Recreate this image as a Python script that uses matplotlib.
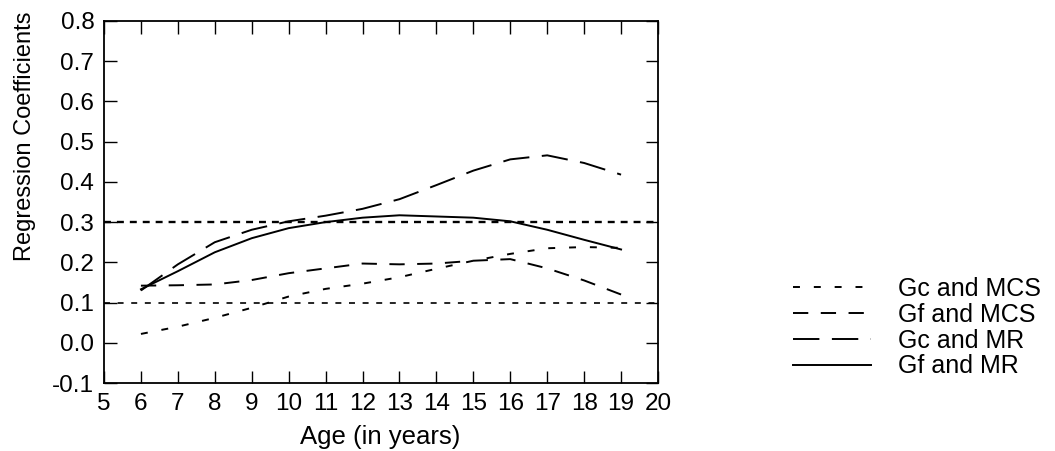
import matplotlib
matplotlib.use("Agg")
import matplotlib.pyplot as plt

plt.rcParams['font.family'] = ['Liberation Sans', 'DejaVu Sans']
plt.rcParams['lines.scale_dashes'] = False

# ---- data ----
ages = [6, 7, 8, 9, 10, 11, 12, 13, 14, 15, 16, 17, 18, 19]
gc_mcs = [0.022, 0.040, 0.062, 0.087, 0.115, 0.134, 0.147, 0.163, 0.184, 0.204, 0.221, 0.235, 0.238, 0.236]
gf_mcs = [0.142, 0.143, 0.145, 0.156, 0.173, 0.185, 0.197, 0.195, 0.197, 0.204, 0.208, 0.185, 0.155, 0.120]
gc_mr = [0.130, 0.195, 0.250, 0.281, 0.302, 0.316, 0.333, 0.357, 0.392, 0.428, 0.456, 0.466, 0.447, 0.418]
gf_mr = [0.133, 0.178, 0.225, 0.260, 0.285, 0.300, 0.311, 0.317, 0.314, 0.311, 0.302, 0.281, 0.256, 0.232]
series_labels = ["Gc and MCS", "Gf and MCS", "Gc and MR", "Gf and MR"]
ref_lines = [0.3, 0.1]
x_ticks = list(range(5, 21))
y_ticks = [-0.1, 0.0, 0.1, 0.2, 0.3, 0.4, 0.5, 0.6, 0.7, 0.8]
y_ticklabels = ["-0.1", "0.0", "0.1", "0.2", "0.3", "0.4", "0.5", "0.6", "0.7", "0.8"]

W, H = 1055, 451
fig = plt.figure(figsize=(W / 100, H / 100), dpi=100)
ax = fig.add_axes([104 / W, 1 - 383 / H, 554 / W, 362 / H])

lw = 1.4
h1, = ax.plot(ages, gc_mcs, color='black', lw=lw, dashes=(5, 10))
h2, = ax.plot(ages, gf_mcs, color='black', lw=lw, dashes=(11, 9))
h3, = ax.plot(ages, gc_mr, color='black', lw=lw, dashes=(19, 9))
h4, = ax.plot(ages, gf_mr, color='black', lw=lw)

ax.axhline(ref_lines[0], color='black', lw=1.7, dashes=(5, 4.3))
ax.axhline(ref_lines[1], color='black', lw=1.2, dashes=(4.3, 5.5))

ax.set_xlim(5, 20)
ax.set_ylim(-0.1, 0.8)
ax.set_xticks(x_ticks)
ax.set_xticklabels([str(t) for t in x_ticks])
ax.set_yticks(y_ticks)
ax.set_yticklabels(y_ticklabels)
ax.tick_params(direction='in', length=9, width=1.0, top=True, right=True,
               labelsize=17.5, pad=7)
for s in ax.spines.values():
    s.set_linewidth(1.3)

fig.text(25 / W, 1 - 136 / H, "Regression Coefficients", rotation=90,
         ha='center', va='center', fontsize=17)
fig.text(380 / W, 1 - 437 / H, "Age (in years)", ha='center', va='center', fontsize=18.5)

fig.legend([h1, h2, h3, h4], series_labels, loc='upper left',
           bbox_to_anchor=(793 / W, 1 - 277 / H), frameon=False,
           fontsize=18, handlelength=3.1, handletextpad=1.08, labelspacing=0.07,
           borderaxespad=0, borderpad=0)

fig.savefig("out.png", dpi=100)
